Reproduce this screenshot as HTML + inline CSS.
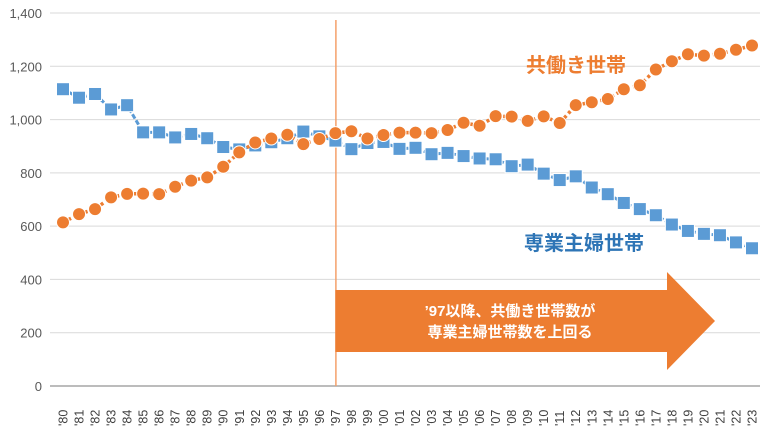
<!DOCTYPE html>
<html><head><meta charset="utf-8"><style>
body{margin:0;background:#fff;}
svg{display:block;font-family:"Liberation Sans","Noto Sans CJK JP",sans-serif;}
</style></head><body>
<svg id="chart" width="770" height="433"></svg>
<script>
const years=["'80","'81","'82","'83","'84","'85","'86","'87","'88","'89","'90","'91","'92","'93","'94","'95","'96","'97","'98","'99","'00","'01","'02","'03","'04","'05","'06","'07","'08","'09","'10","'11","'12","'13","'14","'15","'16","'17","'18","'19","'20","'21","'22","'23"];
const dualIncome=[614,645,664,708,721,722,720,748,771,783,823,877,914,929,943,908,927,949,956,929,942,951,951,949,961,988,977,1013,1011,995,1012,987,1054,1065,1077,1114,1129,1188,1219,1245,1240,1247,1262,1278];
const housewife=[1114,1082,1096,1038,1054,952,952,933,946,930,897,888,903,915,930,955,937,921,889,912,916,890,894,870,875,863,854,851,825,831,797,773,787,745,720,687,664,641,606,582,571,566,539,517];
const yTicks=[0,200,400,600,800,1000,1200,1400];
const markerYear="'97";
const NS="http://www.w3.org/2000/svg";
const svg=document.getElementById('chart');
const x0=63,dx=(752-63)/(years.length-1);
const X=i=>x0+i*dx;
const Y=v=>386-v*(373/1400);
function mk(t,a,p){const e=document.createElementNS(NS,t);for(const k in a)e.setAttribute(k,a[k]);(p||svg).appendChild(e);return e;}
yTicks.forEach(v=>{
  const g=mk('line',{x1:50,x2:760,y1:Y(v),y2:Y(v),stroke:v===0?'#a6a6a6':'#d9d9d9','stroke-width':v===0?1.5:1});
  
  
  const t=mk('text',{x:42,y:Y(v)+5,'text-anchor':'end','font-size':13,fill:'#595959'});
  t.textContent=v.toLocaleString('en-US');
  
  
});
years.forEach((y,i)=>{
  const t=mk('text',{transform:`translate(${X(i)+4.5},${426}) rotate(-90)`,'font-size':12.5,fill:'#404040'});
  t.textContent=y;
  
  
});
const mi=years.indexOf(markerYear);
const vl=mk('line',{x1:X(mi)+0.5,x2:X(mi)+0.5,y1:20,y2:386,stroke:'#f4a06a','stroke-width':1.5});


const ar=mk('polygon',{points:`${X(mi)},290 667,290 667,272 715,321 667,370 667,352 ${X(mi)},352`,fill:'#ed7d31'});


[['’97以降、共働き世帯数が',316],['専業主婦世帯数を上回る',337]].forEach(([s,y])=>{
  const t=mk('text',{x:510,y:y,'text-anchor':'middle','font-size':15,'font-weight':'bold',fill:'#fff'});
  t.textContent=s;
  
  
});
const hp=mk('polyline',{points:housewife.map((v,i)=>X(i)+','+Y(v)).join(' '),fill:'none',stroke:'#5b9bd5','stroke-width':3,'stroke-dasharray':'5 2'});


housewife.forEach((v,i)=>{
  const r=mk('rect',{x:X(i)-6.5,y:Y(v)-6.5,width:13,height:13,fill:'#5b9bd5',stroke:'#fff','stroke-width':1});
  
  
});
const op=mk('polyline',{points:dualIncome.map((v,i)=>X(i)+','+Y(v)).join(' '),fill:'none',stroke:'#ed7d31','stroke-width':3.5,'stroke-dasharray':'3 3'});


dualIncome.forEach((v,i)=>{
  const c=mk('circle',{cx:X(i),cy:Y(v),r:6.5,fill:'#ed7d31',stroke:'#fff','stroke-width':1});
  
  
});
const l1=mk('text',{x:526,y:72,'font-size':20,'font-weight':'bold',fill:'#ed7d31'});
l1.textContent='共働き世帯';


const l2=mk('text',{x:524,y:250,'font-size':20,'font-weight':'bold',fill:'#2e75b6'});
l2.textContent='専業主婦世帯';


</script>
</body></html>
